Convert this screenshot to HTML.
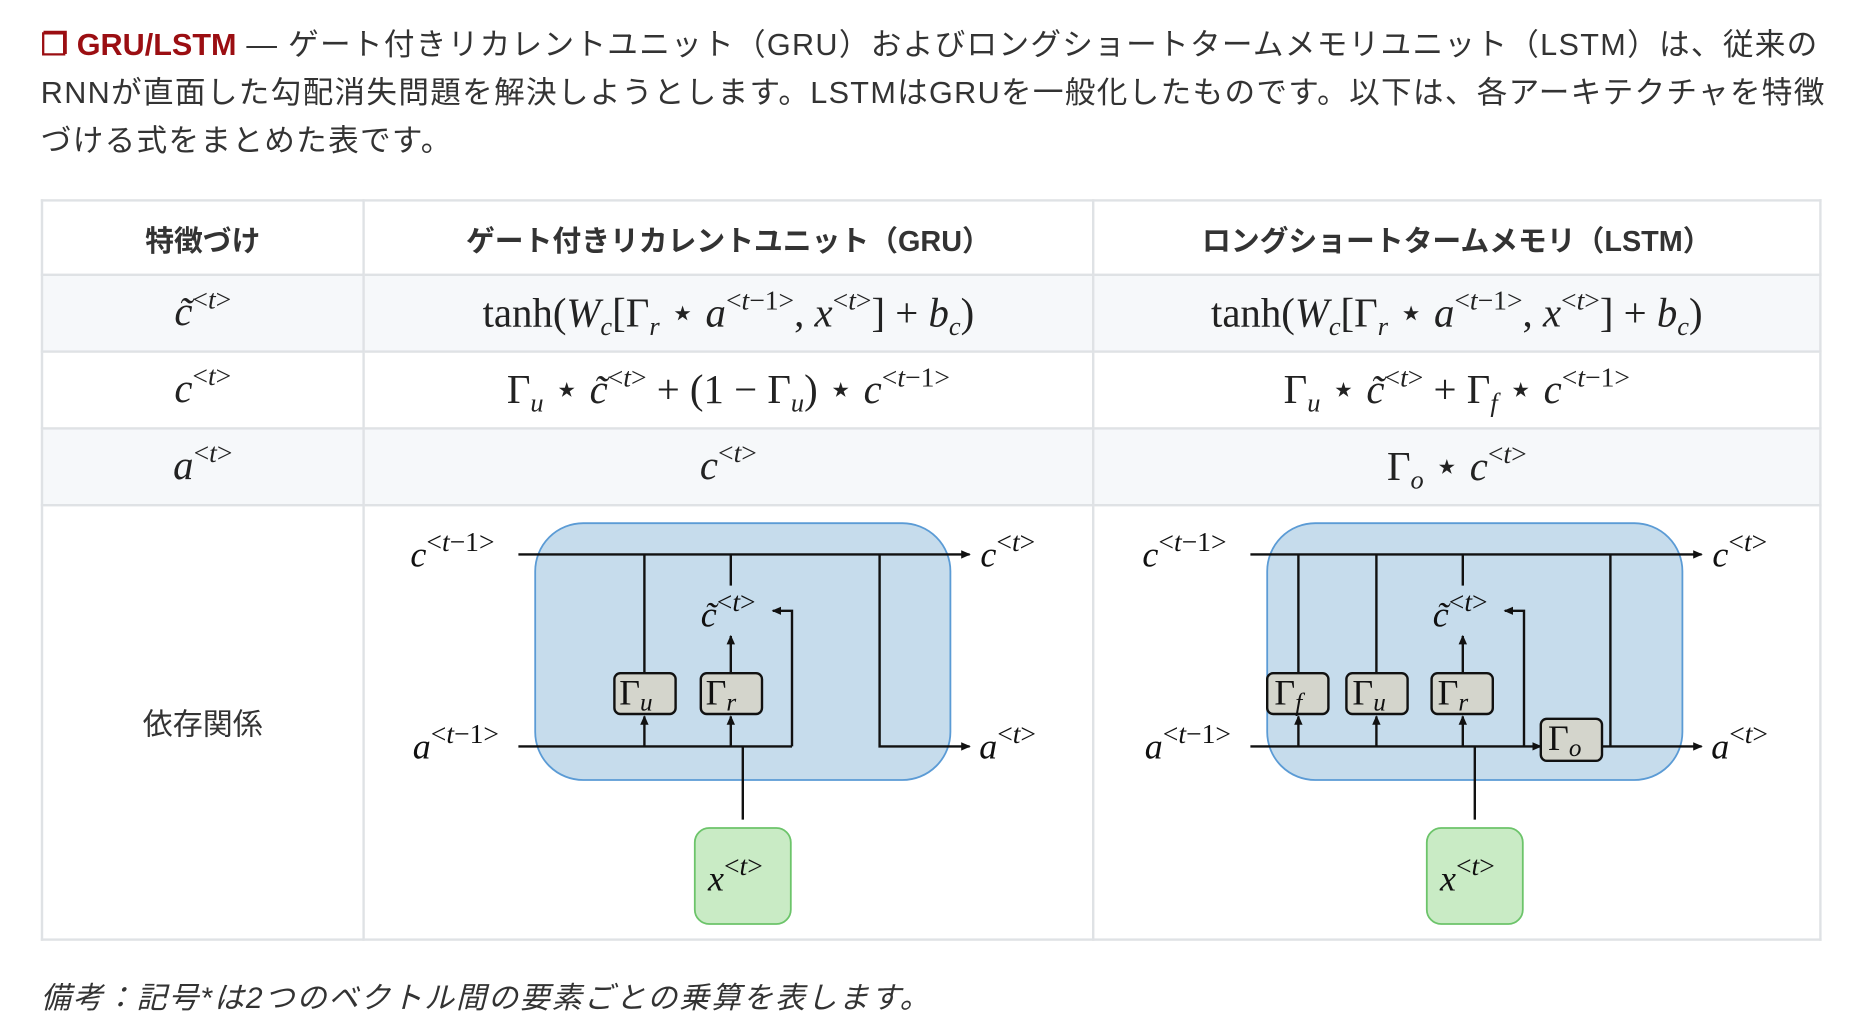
<!DOCTYPE html>
<html><head><meta charset="utf-8"><style>
html,body{margin:0;padding:0;background:#fff;width:1872px;height:1032px;overflow:hidden}
#w{position:absolute;left:0;top:0;width:1560px;height:860px;transform:scale(1.2);transform-origin:0 0;font-family:"Liberation Sans","Noto Sans CJK JP",sans-serif;color:#333}
#p{position:absolute;left:34px;top:18px;width:1492px;font-size:25.5px;line-height:40px;letter-spacing:1.1px}
#p b{color:#9b0e12;letter-spacing:0}
table{position:absolute;left:34px;top:166px;border-collapse:collapse;width:1484px}
td,th{border:2px solid #dfe2e5;text-align:center;padding:0}
th{height:60px;font-size:24px;font-weight:bold;color:#333}
tr.g td{background:#f6f8fa}
td.m{font-family:"Liberation Serif",serif;font-size:34px;color:#222;height:62px}
td.m sup{font-size:23px;vertical-align:14px;line-height:0}
td.m sub{font-size:22px;vertical-align:-7px;line-height:0}
.note{position:absolute;left:34px;top:812px;font-size:25px;font-style:italic;color:#333;letter-spacing:1.6px}
svg text{font-family:"Liberation Serif",serif;fill:#111}
</style></head><body><div id="w">
<div id="p"><b>❐ GRU/LSTM</b> — ゲート付きリカレントユニット（GRU）およびロングショートタームメモリユニット（LSTM）は、従来のRNNが直面した勾配消失問題を解決しようとします。LSTMはGRUを一般化したものです。以下は、各アーキテクチャを特徴づける式をまとめた表です。</div>
<table>
<tr><th style="width:266px">特徴づけ</th><th style="width:606px">ゲート付きリカレントユニット（GRU）</th><th>ロングショートタームメモリ（LSTM）</th></tr>
<tr class="g"><td class="m"><i>c̃</i><sup>&lt;<i>t</i>&gt;</sup></td><td class="m">tanh(<i>W<sub>c</sub></i>[Γ<sub><i>r</i></sub> ⋆ <i>a</i><sup>&lt;<i>t</i>−1&gt;</sup>, <i>x</i><sup>&lt;<i>t</i>&gt;</sup>] + <i>b<sub>c</sub></i>)</td><td class="m">tanh(<i>W<sub>c</sub></i>[Γ<sub><i>r</i></sub> ⋆ <i>a</i><sup>&lt;<i>t</i>−1&gt;</sup>, <i>x</i><sup>&lt;<i>t</i>&gt;</sup>] + <i>b<sub>c</sub></i>)</td></tr>
<tr><td class="m"><i>c</i><sup>&lt;<i>t</i>&gt;</sup></td><td class="m">Γ<sub><i>u</i></sub> ⋆ <i>c̃</i><sup>&lt;<i>t</i>&gt;</sup> + (1 − Γ<sub><i>u</i></sub>) ⋆ <i>c</i><sup>&lt;<i>t</i>−1&gt;</sup></td><td class="m">Γ<sub><i>u</i></sub> ⋆ <i>c̃</i><sup>&lt;<i>t</i>&gt;</sup> + Γ<sub><i>f</i></sub> ⋆ <i>c</i><sup>&lt;<i>t</i>−1&gt;</sup></td></tr>
<tr class="g"><td class="m"><i>a</i><sup>&lt;<i>t</i>&gt;</sup></td><td class="m"><i>c</i><sup>&lt;<i>t</i>&gt;</sup></td><td class="m">Γ<sub><i>o</i></sub> ⋆ <i>c</i><sup>&lt;<i>t</i>&gt;</sup></td></tr>
<tr><td style="height:360px;font-size:25px;color:#333">依存関係</td><td></td><td></td></tr>
</table>
<svg width="1560" height="860" style="position:absolute;left:0;top:0">
<defs><marker id="ar" markerWidth="8" markerHeight="8" refX="7" refY="4" orient="auto" markerUnits="userSpaceOnUse"><path d="M0,0.5 L8,4 L0,7.5 z" fill="#111"/></marker></defs>
<g stroke="#111" stroke-width="2" fill="none">
<rect x="446" y="436" width="346" height="214" rx="40" fill="#c6dcec" stroke="#5b9bd5" stroke-width="1.5"/>
<line x1="432" y1="462" x2="808" y2="462" marker-end="url(#ar)"/>
<line x1="432" y1="622" x2="660" y2="622"/>
<polyline points="660,622 660,509 644,509" marker-end="url(#ar)"/>
<line x1="537" y1="462" x2="537" y2="561"/>
<line x1="609" y1="462" x2="609" y2="488"/>
<line x1="609" y1="561" x2="609" y2="530" marker-end="url(#ar)"/>
<line x1="537" y1="622" x2="537" y2="597" marker-end="url(#ar)"/>
<line x1="609" y1="622" x2="609" y2="597" marker-end="url(#ar)"/>
<polyline points="733,462 733,622 808,622" marker-end="url(#ar)"/>
<line x1="619" y1="622" x2="619" y2="683"/>
<rect x="512" y="561" width="51" height="34" rx="5" fill="#d4d5cc"/>
<rect x="584" y="561" width="51" height="34" rx="5" fill="#d4d5cc"/>
<rect x="579" y="690" width="80" height="80" rx="12" fill="#c9ebc5" stroke="#6cc46a" stroke-width="1.5"/>
<rect x="1056" y="436" width="346" height="214" rx="40" fill="#c6dcec" stroke="#5b9bd5" stroke-width="1.5"/>
<line x1="1042" y1="462" x2="1418" y2="462" marker-end="url(#ar)"/>
<line x1="1042" y1="622" x2="1284" y2="622" marker-end="url(#ar)"/>
<line x1="1335" y1="622" x2="1418" y2="622" marker-end="url(#ar)"/>
<polyline points="1270,622 1270,509 1254,509" marker-end="url(#ar)"/>
<line x1="1082" y1="462" x2="1082" y2="561"/>
<line x1="1147" y1="462" x2="1147" y2="561"/>
<line x1="1219" y1="462" x2="1219" y2="488"/>
<line x1="1219" y1="561" x2="1219" y2="530" marker-end="url(#ar)"/>
<line x1="1082" y1="622" x2="1082" y2="597" marker-end="url(#ar)"/>
<line x1="1147" y1="622" x2="1147" y2="597" marker-end="url(#ar)"/>
<line x1="1219" y1="622" x2="1219" y2="597" marker-end="url(#ar)"/>
<line x1="1342" y1="462" x2="1342" y2="622"/>
<line x1="1229" y1="622" x2="1229" y2="683"/>
<rect x="1056" y="561" width="51" height="34" rx="5" fill="#d4d5cc"/>
<rect x="1122" y="561" width="51" height="34" rx="5" fill="#d4d5cc"/>
<rect x="1193" y="561" width="51" height="34" rx="5" fill="#d4d5cc"/>
<rect x="1284" y="599" width="51" height="35" rx="5" fill="#d4d5cc"/>
<rect x="1189" y="690" width="80" height="80" rx="12" fill="#c9ebc5" stroke="#6cc46a" stroke-width="1.5"/>
</g>
<g font-size="30">
<text x="342" y="472"><tspan font-style="italic">c</tspan><tspan font-size="23" dy="-13">&lt;<tspan font-style="italic">t</tspan>−1&gt;</tspan></text>
<text x="344" y="632"><tspan font-style="italic">a</tspan><tspan font-size="23" dy="-13">&lt;<tspan font-style="italic">t</tspan>−1&gt;</tspan></text>
<text x="817" y="472"><tspan font-style="italic">c</tspan><tspan font-size="23" dy="-13">&lt;<tspan font-style="italic">t</tspan>&gt;</tspan></text>
<text x="816" y="632"><tspan font-style="italic">a</tspan><tspan font-size="23" dy="-13">&lt;<tspan font-style="italic">t</tspan>&gt;</tspan></text>
<text x="584" y="522"><tspan font-style="italic">c̃</tspan><tspan font-size="23" dy="-13">&lt;<tspan font-style="italic">t</tspan>&gt;</tspan></text>
<text x="516" y="587">Γ<tspan font-size="21" font-style="italic" dy="5">u</tspan></text>
<text x="588" y="587">Γ<tspan font-size="21" font-style="italic" dy="5">r</tspan></text>
<text x="590" y="742"><tspan font-style="italic">x</tspan><tspan font-size="23" dy="-13">&lt;<tspan font-style="italic">t</tspan>&gt;</tspan></text>
<text x="952" y="472"><tspan font-style="italic">c</tspan><tspan font-size="23" dy="-13">&lt;<tspan font-style="italic">t</tspan>−1&gt;</tspan></text>
<text x="954" y="632"><tspan font-style="italic">a</tspan><tspan font-size="23" dy="-13">&lt;<tspan font-style="italic">t</tspan>−1&gt;</tspan></text>
<text x="1427" y="472"><tspan font-style="italic">c</tspan><tspan font-size="23" dy="-13">&lt;<tspan font-style="italic">t</tspan>&gt;</tspan></text>
<text x="1426" y="632"><tspan font-style="italic">a</tspan><tspan font-size="23" dy="-13">&lt;<tspan font-style="italic">t</tspan>&gt;</tspan></text>
<text x="1194" y="522"><tspan font-style="italic">c̃</tspan><tspan font-size="23" dy="-13">&lt;<tspan font-style="italic">t</tspan>&gt;</tspan></text>
<text x="1062" y="587">Γ<tspan font-size="21" font-style="italic" dy="5">f</tspan></text>
<text x="1127" y="587">Γ<tspan font-size="21" font-style="italic" dy="5">u</tspan></text>
<text x="1198" y="587">Γ<tspan font-size="21" font-style="italic" dy="5">r</tspan></text>
<text x="1290" y="625">Γ<tspan font-size="21" font-style="italic" dy="5">o</tspan></text>
<text x="1200" y="742"><tspan font-style="italic">x</tspan><tspan font-size="23" dy="-13">&lt;<tspan font-style="italic">t</tspan>&gt;</tspan></text>
</g>
</svg>
<div class="note">備考：記号*は2つのベクトル間の要素ごとの乗算を表します。</div>
</div></body></html>
